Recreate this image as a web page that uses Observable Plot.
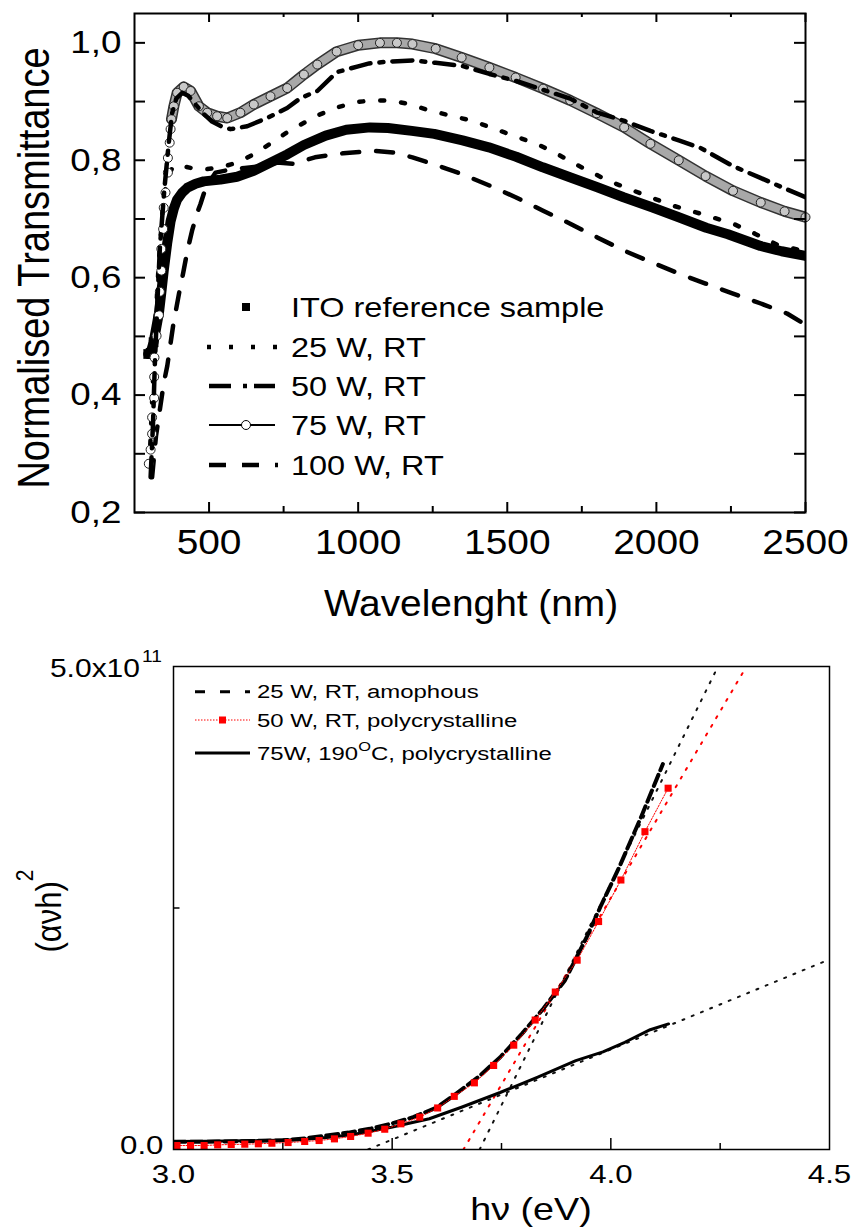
<!DOCTYPE html>
<html><head><meta charset="utf-8">
<script src="https://cdn.jsdelivr.net/npm/d3@7"></script>
<script src="https://cdn.jsdelivr.net/npm/@observablehq/plot@0.6"></script>
<style>body{margin:0;background:#fff;} svg{display:block;}</style>
</head><body><div id="chart"></div>
<script>
const FONT = '"Liberation Sans", Arial, Helvetica, sans-serif';

// ---------- Top panel: normalised transmittance vs wavelength (nm) ----------
const itoRef = [[296,0.47],[304,0.472],[314,0.49],[323,0.515],[332,0.54],[340,0.575],[348,0.612],[360,0.66],[371,0.696],[382,0.718],[393,0.733],[410,0.745],[427,0.753],[455,0.76],[482,0.764],[538,0.767],[594,0.772],[650,0.782],[706,0.796],[762,0.81],[818,0.826],[891,0.842],[960,0.852],[1040,0.856],[1100,0.855],[1180,0.85],[1255,0.845],[1350,0.834],[1438,0.822],[1530,0.806],[1619,0.788],[1710,0.771],[1802,0.754],[1890,0.737],[1985,0.72],[2075,0.703],[2167,0.685],[2240,0.674],[2349,0.654],[2420,0.645],[2500,0.637]];
const w25 = [[300,0.28],[310,0.4],[320,0.52],[332,0.63],[345,0.72],[360,0.77],[380,0.79],[410,0.79],[438,0.787],[480,0.784],[540,0.788],[600,0.797],[656,0.812],[710,0.83],[760,0.847],[857,0.875],[930,0.89],[991,0.899],[1050,0.902],[1108,0.902],[1170,0.896],[1238,0.885],[1310,0.876],[1384,0.867],[1493,0.847],[1603,0.827],[1670,0.81],[1730,0.793],[1839,0.765],[1985,0.736],[2060,0.722],[2148,0.709],[2257,0.692],[2330,0.675],[2410,0.655],[2500,0.645]];
const w50 = [[304,0.26],[312,0.35],[318,0.45],[326,0.55],[335,0.65],[350,0.75],[365,0.83],[376,0.88],[390,0.905],[410,0.915],[430,0.91],[450,0.898],[480,0.88],[510,0.866],[540,0.858],[572,0.853],[628,0.858],[695,0.872],[762,0.889],[807,0.906],[863,0.918],[928,0.95],[1000,0.96],[1037,0.965],[1100,0.968],[1182,0.97],[1260,0.966],[1347,0.961],[1440,0.947],[1530,0.935],[1620,0.92],[1711,0.905],[1802,0.881],[1893,0.867],[1980,0.85],[2075,0.834],[2148,0.821],[2257,0.79],[2349,0.77],[2430,0.752],[2500,0.737]];
const w75 = [[298,0.283],[304,0.307],[309,0.334],[309,0.362],[316,0.395],[316,0.431],[317,0.464],[324,0.501],[332,0.536],[335,0.576],[340,0.612],[340,0.649],[346,0.683],[348,0.719],[354,0.745],[362,0.779],[362,0.804],[368,0.83],[371,0.853],[374,0.87],[382,0.892],[393,0.915],[415,0.925],[438,0.918],[466,0.892],[494,0.881],[527,0.875],[561,0.872],[605,0.881],[650,0.895],[706,0.909],[762,0.923],[818,0.946],[863,0.963],[928,0.985],[1000,0.996],[1073,1.0],[1130,1.0],[1182,0.998],[1260,0.99],[1347,0.975],[1440,0.958],[1528,0.941],[1620,0.922],[1711,0.902],[1800,0.88],[1892,0.856],[1980,0.828],[2075,0.8],[2165,0.773],[2257,0.748],[2350,0.728],[2430,0.713],[2500,0.703]];
const w100 = [[309,0.26],[322,0.33],[335,0.375],[348,0.42],[360,0.45],[380,0.52],[400,0.575],[414,0.61],[427,0.645],[443,0.68],[460,0.71],[471,0.725],[490,0.755],[522,0.779],[560,0.783],[620,0.787],[680,0.79],[728,0.796],[782,0.794],[855,0.805],[950,0.812],[1055,0.816],[1120,0.813],[1182,0.805],[1260,0.792],[1345,0.777],[1440,0.757],[1528,0.737],[1620,0.714],[1711,0.692],[1800,0.669],[1892,0.646],[1980,0.627],[2075,0.607],[2165,0.59],[2257,0.573],[2350,0.556],[2438,0.539],[2500,0.52]];
const topXMajor = [500,1000,1500,2000,2500];
const topXMinor = [750,1250,1750,2250];
const topYLabels = [0.2,0.4,0.6,0.8,1.0];
const topYTicks = [0.2,0.3,0.4,0.5,0.6,0.7,0.8,0.9,1.0];
const topLegend = ["ITO reference sample","25 W, RT","50 W, RT","75 W, RT","100 W, RT"];

// ---------- Bottom panel: (alpha nu h)^2 vs photon energy (eV), values in units of 1e11 ----------
const ev25 = [[3.0,0.08],[3.05,0.08],[3.1,0.082],[3.15,0.085],[3.2,0.09],[3.25,0.095],[3.3,0.115],[3.35,0.145],[3.4,0.175],[3.449,0.214],[3.5,0.27],[3.548,0.335],[3.6,0.43],[3.635,0.54],[3.697,0.75],[3.747,0.955],[3.797,1.2],[3.846,1.46],[3.895,1.75],[3.945,2.2],[3.976,2.51],[4.019,2.92],[4.069,3.44],[4.119,3.99]];
const ev50 = [[3.008,0.041],[3.039,0.041],[3.07,0.041],[3.101,0.048],[3.132,0.052],[3.163,0.055],[3.194,0.059],[3.225,0.065],[3.262,0.072],[3.3,0.083],[3.333,0.093],[3.368,0.11],[3.405,0.135],[3.445,0.169],[3.483,0.21],[3.52,0.266],[3.563,0.335],[3.604,0.43],[3.642,0.55],[3.688,0.69],[3.732,0.87],[3.778,1.08],[3.827,1.34],[3.873,1.63],[3.923,1.96],[3.972,2.36],[4.023,2.79],[4.078,3.29],[4.131,3.74]];
const ev75 = [[3.0,0.083],[3.08,0.085],[3.163,0.09],[3.287,0.1],[3.35,0.125],[3.411,0.155],[3.498,0.23],[3.585,0.318],[3.66,0.44],[3.747,0.59],[3.833,0.75],[3.92,0.92],[3.982,1.01],[4.032,1.11],[4.09,1.24],[4.132,1.3]];
const fit25 = [[3.70,0],[4.245,5.0]];
const fit50 = [[3.663,0],[4.31,5.0]];
const fit75 = [[3.445,0],[4.485,1.94]];
const botXLabels = [3.0,3.5,4.0,4.5];
const botXMajor = [3.5,4.0];
const botXMinor = [3.25,3.75,4.25];
const botYMinor = [2.5];
const botLegend = ["25 W, RT, amophous","50 W, RT, polycrystalline"];
const E11 = 1e11;

// ---------- helpers ----------
function stretchNode(node, s) {
  const x = +node.getAttribute("x") || 0, y = +node.getAttribute("y") || 0;
  const t = node.getAttribute("transform") || "";
  node.setAttribute("transform", `${t} translate(${x},${y}) scale(${s},1) translate(${-x},${-y})`);
}
function stretchAxis(svg, which, s) {
  d3.select(svg).selectAll(`g[aria-label="${which}-axis tick label"] text`).each(function(){ stretchNode(this, s); });
}
function addText(svg, {x, y, parts, size, anchor = "start", sx = 1, rot = false}) {
  const t = d3.select(svg).append("text")
    .attr("text-anchor", anchor).attr("font-family", FONT).attr("font-size", size).attr("fill", "black")
    .attr("transform", rot ? `translate(${x},${y}) rotate(-90) scale(1,${sx})` : `translate(${x},${y}) scale(${sx},1)`);
  for (const p of parts) {
    const ts = t.append("tspan").text(p.t);
    if (p.size) ts.attr("font-size", p.size);
    if (p.dy) ts.attr("dy", p.dy);
  }
  return t;
}
const xy = {x: d => d[0], y: d => d[1]};

// ---------- top plot ----------
const TW = 852, TH = 640, TML = 134, TMR = 47, TMT = 13, TMB = 128;
const TFW = TW - TML - TMR, TFH = TH - TMT - TMB;
const topPlot = Plot.plot({
  width: TW, height: TH, marginLeft: TML, marginRight: TMR, marginTop: TMT, marginBottom: TMB,
  style: {fontFamily: FONT, background: "white", overflow: "visible"},
  x: {domain: [250, 2500]},
  y: {domain: [0.2, 1.05]},
  marks: [
    Plot.line(itoRef, {...xy, stroke: "black", strokeWidth: 10, clip: true}),
    Plot.dot(itoRef, {...xy, filter: d => d[0] < 320, symbol: "square", r: 5.5, fill: "black"}),
    Plot.line(w100, {...xy, stroke: "black", strokeWidth: 4.5, strokeDasharray: "17 17", clip: true}),
    Plot.line(w25, {...xy, stroke: "black", strokeWidth: 4.5, strokeDasharray: "4 17", clip: true}),
    Plot.line(w75, {...xy, filter: d => d[0] >= 374, stroke: "#333", strokeWidth: 11, strokeLinejoin: "round", strokeLinecap: "round", clip: true}),
    Plot.line(w75, {...xy, filter: d => d[0] >= 374, stroke: "#a8a8a8", strokeWidth: 8, strokeLinejoin: "round", strokeLinecap: "round", clip: true}),
    Plot.dot(w75, {...xy, r: 4.5, fill: d => d[0] < 374 ? "white" : "#c8c8c8", stroke: "#222", strokeWidth: 1}),
    Plot.line(w50, {...xy, stroke: "black", strokeWidth: 4.5, strokeDasharray: "20 9 4 9", clip: true}),
    Plot.frame({stroke: "black", strokeWidth: 2}),
    Plot.tickX(topXMajor, {x: d => d, insetTop: TFH - 10, stroke: "black", strokeWidth: 2}),
    Plot.tickX(topXMinor, {x: d => d, insetTop: TFH - 6, stroke: "black", strokeWidth: 2}),
    Plot.tickX(topXMajor, {x: d => d, insetBottom: TFH - 9, stroke: "black", strokeWidth: 2}),
    Plot.tickX(topXMinor, {x: d => d, insetBottom: TFH - 4, stroke: "black", strokeWidth: 2}),
    Plot.tickY(topYTicks, {y: d => d, insetRight: TFW - 11, stroke: "black", strokeWidth: 2}),
    Plot.tickY(topYTicks, {y: d => d, insetLeft: TFW - 11, stroke: "black", strokeWidth: 2}),
    Plot.axisX({ticks: topXMajor, tickSize: 0, tickPadding: 16, fontSize: 36, tickFormat: d => String(d), label: null}),
    Plot.axisY({ticks: topYLabels, tickSize: 0, tickPadding: 13, fontSize: 32, tickFormat: d => d.toFixed(1).replace(".", ","), label: null})
  ]
});

// ---------- bottom plot ----------
const BW = 852, BH = 589, BML = 173, BMR = 23, BMT = 26, BMB = 80;
const BFW = BW - BML - BMR, BFH = BH - BMT - BMB;
const yv = {x: d => d[0], y: d => d[1] * E11};
const botPlot = Plot.plot({
  width: BW, height: BH, marginLeft: BML, marginRight: BMR, marginTop: BMT, marginBottom: BMB,
  style: {fontFamily: FONT, background: "white", overflow: "visible"},
  x: {domain: [3.0, 4.5]},
  y: {domain: [0, 5 * E11]},
  marks: [
    Plot.line(fit25, {...yv, stroke: "#111", strokeWidth: 2, strokeDasharray: "2 8", clip: true}),
    Plot.line(fit50, {...yv, stroke: "#f00", strokeWidth: 2, strokeDasharray: "2 8", clip: true}),
    Plot.line(fit75, {...yv, stroke: "#111", strokeWidth: 2, strokeDasharray: "2 8", clip: true}),
    Plot.line(ev75, {...yv, stroke: "black", strokeWidth: 3, clip: true}),
    Plot.line(ev25, {...yv, stroke: "black", strokeWidth: 4, strokeDasharray: "12 5", clip: true}),
    Plot.line(ev50, {...yv, stroke: "#f00", strokeWidth: 1, strokeDasharray: "1.5 1.5", clip: true}),
    Plot.dot(ev50, {...yv, symbol: "square", r: 4, fill: "#f00"}),
    Plot.frame({stroke: "black", strokeWidth: 1.5}),
    Plot.tickX(botXMajor, {x: d => d, insetTop: BFH - 11, stroke: "black", strokeWidth: 1.5}),
    Plot.tickX(botXMinor, {x: d => d, insetTop: BFH - 6, stroke: "black", strokeWidth: 1.5}),
    Plot.tickY(botYMinor, {y: d => d * E11, insetRight: BFW - 6.5, stroke: "black", strokeWidth: 1.5}),
    Plot.axisX({ticks: botXLabels, tickSize: 0, tickPadding: 16, fontSize: 25, tickFormat: d => d.toFixed(1), label: null}),
    Plot.axisY({ticks: [0], tickSize: 0, tickPadding: 10, dy: -4, fontSize: 25, tickFormat: d => d.toFixed(1), label: null})
  ]
});

const root = document.getElementById("chart");
root.appendChild(topPlot);
root.appendChild(botPlot);

// stretch tick labels to the original's wide lettering
stretchAxis(topPlot, "x", 1.08);
stretchAxis(topPlot, "y", 1.15);
stretchAxis(botPlot, "x", 1.25);
stretchAxis(botPlot, "y", 1.25);

// ---------- top texts and legend ----------
addText(topPlot, {x: 471, y: 616, parts: [{t: "Wavelenght (nm)"}], size: 37, anchor: "middle", sx: 1.05});
addText(topPlot, {x: 49, y: 268, parts: [{t: "Normalised Transmittance"}], size: 38, anchor: "middle", sx: 1.17, rot: true});

const tl = d3.select(topPlot).append("g");
const rowsTop = [307, 347, 386, 425, 465];
tl.append("rect").attr("x", 242).attr("y", rowsTop[0] - 4).attr("width", 8).attr("height", 8).attr("fill", "black");
tl.append("line").attr("x1", 207).attr("x2", 279).attr("y1", rowsTop[1]).attr("y2", rowsTop[1]).attr("stroke", "black").attr("stroke-width", 4.5).attr("stroke-dasharray", "4 18");
tl.append("line").attr("x1", 209).attr("x2", 275).attr("y1", rowsTop[2]).attr("y2", rowsTop[2]).attr("stroke", "black").attr("stroke-width", 4.5).attr("stroke-dasharray", "22 12 4 7 22");
tl.append("line").attr("x1", 209).attr("x2", 275).attr("y1", rowsTop[3]).attr("y2", rowsTop[3]).attr("stroke", "black").attr("stroke-width", 2);
tl.append("circle").attr("cx", 246).attr("cy", rowsTop[3]).attr("r", 4.5).attr("fill", "white").attr("stroke", "black").attr("stroke-width", 1);
tl.append("line").attr("x1", 209).attr("x2", 278).attr("y1", rowsTop[4]).attr("y2", rowsTop[4]).attr("stroke", "black").attr("stroke-width", 4.5).attr("stroke-dasharray", "17 16");
topLegend.forEach((s, i) => addText(topPlot, {x: 291, y: rowsTop[i] + 10, parts: [{t: s}], size: 28, sx: 1.16}));

// ---------- bottom texts and legend ----------
addText(botPlot, {x: 140, y: 36.5, parts: [{t: "5.0x10"}], size: 25, anchor: "end", sx: 1.2});
addText(botPlot, {x: 142, y: 22, parts: [{t: "11"}], size: 16, sx: 1.2});
addText(botPlot, {x: 531, y: 580, parts: [{t: "h\u03BD (eV)"}], size: 32, anchor: "middle", sx: 1.18});
addText(botPlot, {x: 61, y: 271, parts: [{t: "(\u03B1\u03BDh)"}, {t: "2", size: 21, dy: -24}], size: 31, anchor: "middle", sx: 1.15, rot: true});

const bl = d3.select(botPlot).append("g");
const rowsBot = [51.7, 80, 113];
bl.append("line").attr("x1", 195).attr("x2", 250).attr("y1", rowsBot[0]).attr("y2", rowsBot[0]).attr("stroke", "black").attr("stroke-width", 3).attr("stroke-dasharray", "10 15");
bl.append("line").attr("x1", 195).attr("x2", 250).attr("y1", rowsBot[1]).attr("y2", rowsBot[1]).attr("stroke", "#f00").attr("stroke-width", 1).attr("stroke-dasharray", "1.5 1.5");
bl.append("rect").attr("x", 219).attr("y", rowsBot[1] - 3.5).attr("width", 7).attr("height", 7).attr("fill", "#f00");
bl.append("line").attr("x1", 195).attr("x2", 250).attr("y1", rowsBot[2]).attr("y2", rowsBot[2]).attr("stroke", "black").attr("stroke-width", 3);
addText(botPlot, {x: 257, y: 58.3, parts: [{t: botLegend[0]}], size: 19, sx: 1.26});
addText(botPlot, {x: 257, y: 86.7, parts: [{t: botLegend[1]}], size: 19, sx: 1.26});
addText(botPlot, {x: 257, y: 120, parts: [{t: "75W, 190"}, {t: "O", size: 13, dy: -9}, {t: "C, polycrystalline", size: 19, dy: 9}], size: 19, sx: 1.26});
</script>
</body></html>
